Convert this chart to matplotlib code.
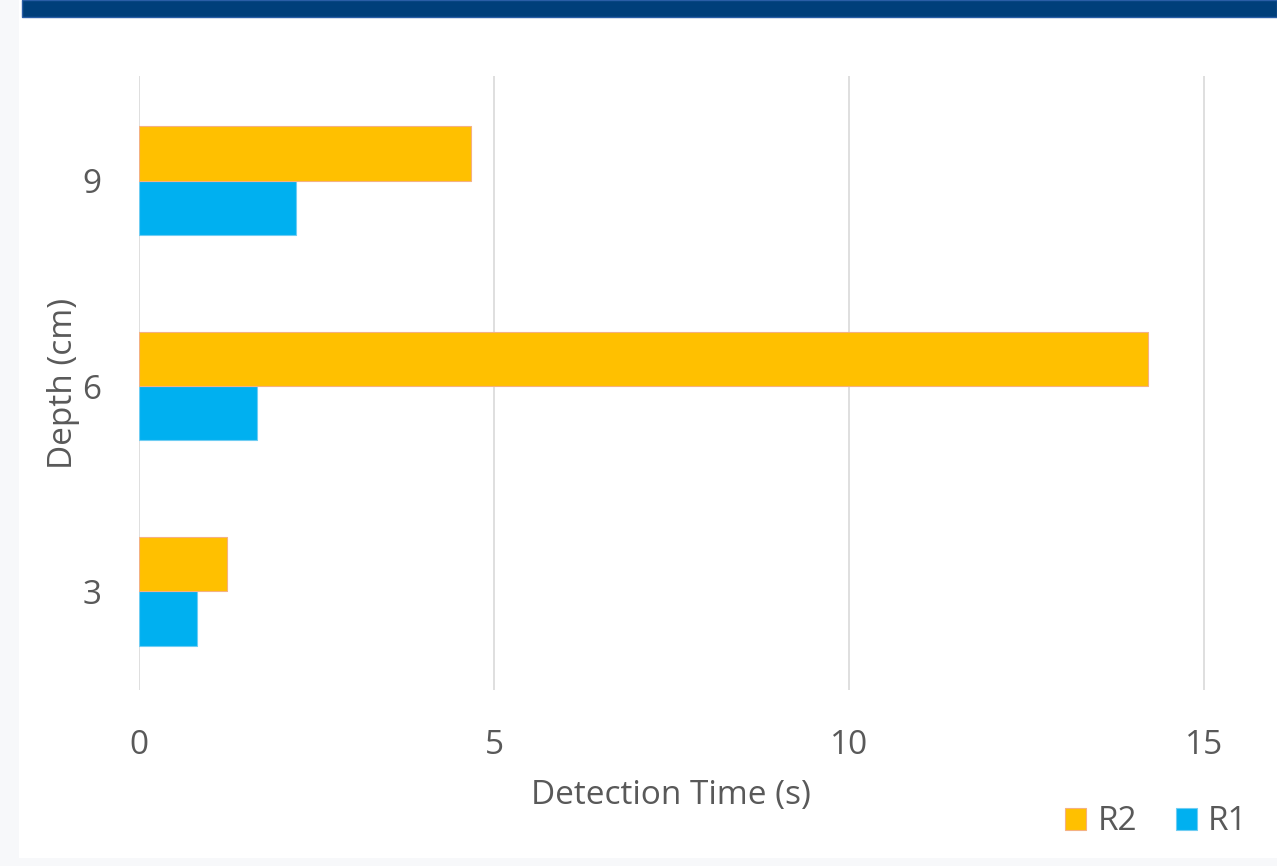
import matplotlib
matplotlib.use("Agg")
import matplotlib.pyplot as plt
from matplotlib.patches import Rectangle
import numpy as np

# Data
depths = ["3", "6", "9"]
r1_times = [0.82, 1.66, 2.21]
r2_times = [1.24, 14.21, 4.68]
x_ticks = [0, 5, 10, 15]

plt.rcParams["font.family"] = ["Open Sans", "DejaVu Sans"]
text_color = "#595959"
fs = 24

fig = plt.figure(figsize=(12.77, 8.66), dpi=100)
W, H = 1277, 866

# Frame decorations: side strip, top band, bottom strip
fig.patches.append(Rectangle((0, 0), 19 / W, 1, transform=fig.transFigure,
                             facecolor="#f7f8fa", edgecolor="none", zorder=0))
fig.patches.append(Rectangle((0, 0), 1, 8 / H, transform=fig.transFigure,
                             facecolor="#f7f8fa", edgecolor="none", zorder=0))
fig.patches.append(Rectangle((22 / W, 1 - 17 / H), 1 - 22 / W, 17 / H,
                             transform=fig.transFigure, facecolor="#003f7a",
                             edgecolor="#2a5ea6", linewidth=1, zorder=1))

ax = fig.add_axes([139 / W, 1 - 690 / H, (1240 - 139) / W, (690 - 76) / H])

y = np.arange(len(depths))
h = 0.265
ax.barh(y - h / 2, r1_times, height=h, color="#00b0f0", edgecolor="#6fcdf3",
        linewidth=0.8, label="R1", zorder=3)
ax.barh(y + h / 2, r2_times, height=h, color="#ffc000", edgecolor="#f4b183",
        linewidth=0.8, label="R2", zorder=3)

ax.set_xlim(0, (1240 - 139) / 71.0)
ax.set_ylim(-0.48, 2.51)
ax.set_xticks(x_ticks)
ax.set_yticks(y)
ax.set_yticklabels(depths)
ax.tick_params(axis="both", length=0, labelsize=fs, colors=text_color)
ax.tick_params(axis="x", pad=28)
ax.tick_params(axis="y", pad=27)
ax.xaxis.grid(True, color="#d9d9d9", linewidth=1.2, zorder=0)
for s in ax.spines.values():
    s.set_visible(False)

ax.set_xlabel("Detection Time (s)", fontsize=fs, color=text_color)
ax.set_ylabel("Depth (cm)", fontsize=fs, color=text_color)
ax.xaxis.set_label_coords((671 - 139) / (1240 - 139), -(779 - 690) / (690 - 76))
ax.yaxis.set_label_coords(-(139 - 80) / (1240 - 139), 0.5)

handles, labels = ax.get_legend_handles_labels()
fig.legend(handles[::-1], labels[::-1], loc="center right",
           bbox_to_anchor=(1261 / W, 1 - 822 / H), ncol=2, frameon=False,
           fontsize=fs, labelcolor=text_color, handlelength=0.63,
           handleheight=0.63, handletextpad=0.33, columnspacing=1.17,
           borderaxespad=0)

fig.savefig("out.png", dpi=100, facecolor="white")
